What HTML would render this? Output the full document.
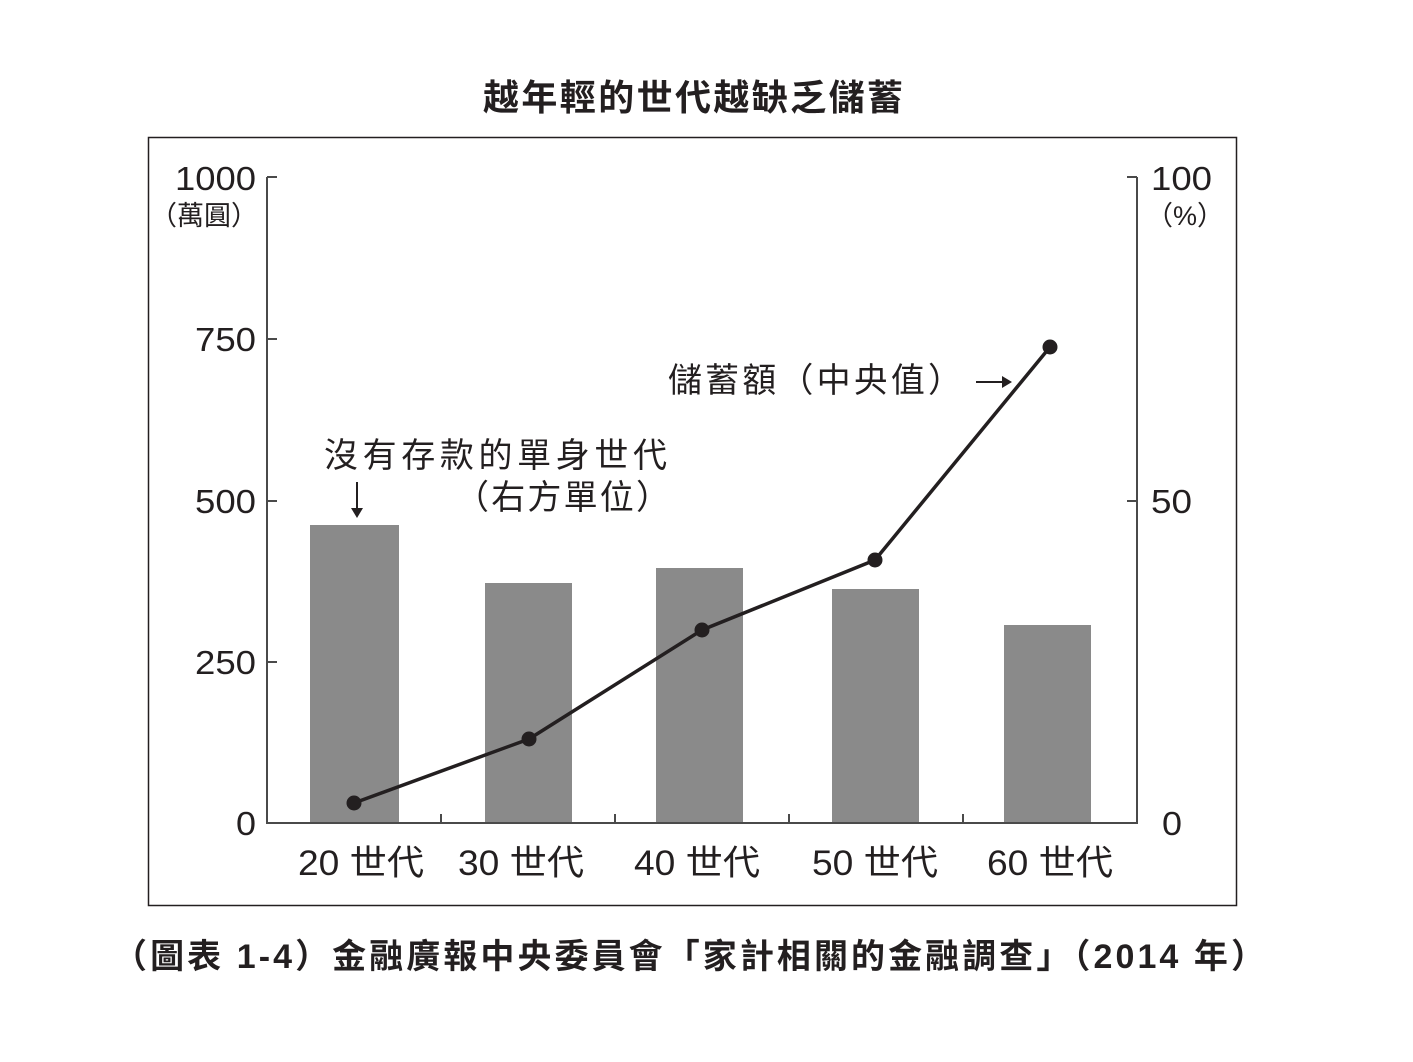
<!DOCTYPE html>
<html><head><meta charset="utf-8"><style>
body{margin:0;background:#fff}
svg text{font-family:"Liberation Sans","Noto Sans CJK TC",sans-serif;fill:#231f20}
</style></head><body>
<svg width="1413" height="1057" viewBox="0 0 1413 1057" xmlns="http://www.w3.org/2000/svg">
<text x="483" y="110" font-size="36" font-weight="bold" textLength="420" lengthAdjust="spacing" style="font-family:'Noto Sans CJK TC',sans-serif">越年輕的世代越缺乏儲蓄</text>
<rect x="148.5" y="137.5" width="1088" height="768" fill="none" stroke="#231f20" stroke-width="1.5"/>
<g fill="#8a8a8a">
<rect x="310" y="525" width="89" height="298"/>
<rect x="485" y="583" width="87" height="240"/>
<rect x="656" y="568" width="87" height="255"/>
<rect x="832" y="589" width="87" height="234"/>
<rect x="1004" y="625" width="87" height="198"/>
</g>
<g stroke="#4a4a4a" stroke-width="2" fill="none">
<path d="M267 177V823H1137V177"/>
<path d="M267 177h10M267 339h10M267 501h10M267 662h10"/>
<path d="M1137 177h-10M1137 501h-10"/>
<path d="M441 823v-9M615 823v-9M789 823v-9M963 823v-9"/>
</g>
<polyline points="354,803 529,739 702,630 875,560 1050,347" fill="none" stroke="#231f20" stroke-width="3.5"/>
<g fill="#231f20">
<circle cx="354" cy="803" r="7.5"/><circle cx="529" cy="739" r="7.5"/><circle cx="702" cy="630" r="7.5"/><circle cx="875" cy="560" r="7.5"/><circle cx="1050" cy="347" r="7.5"/>
</g>
<g font-size="33">
<text x="175" y="190" textLength="81" lengthAdjust="spacingAndGlyphs">1000</text>
<text x="195" y="351" textLength="61" lengthAdjust="spacingAndGlyphs">750</text>
<text x="195" y="513" textLength="61" lengthAdjust="spacingAndGlyphs">500</text>
<text x="195" y="674" textLength="61" lengthAdjust="spacingAndGlyphs">250</text>
<text x="236" y="835" textLength="20" lengthAdjust="spacingAndGlyphs">0</text>
</g>
<text x="258" y="225" font-size="27" text-anchor="end">（萬圓）</text>
<g font-size="33">
<text x="1151" y="190" textLength="61" lengthAdjust="spacingAndGlyphs">100</text>
<text x="1151" y="513" textLength="41" lengthAdjust="spacingAndGlyphs">50</text>
<text x="1162" y="835" textLength="20" lengthAdjust="spacingAndGlyphs">0</text>
</g>
<text x="1146" y="225" font-size="27">（%）</text>
<g font-size="35">
<text x="298" y="875" textLength="126" lengthAdjust="spacingAndGlyphs">20 世代</text>
<text x="458" y="875" textLength="126" lengthAdjust="spacingAndGlyphs">30 世代</text>
<text x="634" y="875" textLength="126" lengthAdjust="spacingAndGlyphs">40 世代</text>
<text x="812" y="875" textLength="126" lengthAdjust="spacingAndGlyphs">50 世代</text>
<text x="987" y="875" textLength="126" lengthAdjust="spacingAndGlyphs">60 世代</text>
</g>
<g font-size="34">
<text x="324" y="467" textLength="343" lengthAdjust="spacing">沒有存款的單身世代</text>
<text x="455" y="509" textLength="215" lengthAdjust="spacing">（右方單位）</text>
<text x="668" y="392" textLength="294" lengthAdjust="spacing">儲蓄額（中央值）</text>
</g>
<path d="M357 482v32" stroke="#231f20" stroke-width="2"/>
<path d="M351 508l6 10 6-10z" fill="#231f20"/>
<path d="M976 382h30" stroke="#231f20" stroke-width="2"/>
<path d="M1002 376l10 6-10 6z" fill="#231f20"/>
<text x="113" y="968" font-size="34" font-weight="bold" textLength="1152" lengthAdjust="spacing" style="font-family:'Liberation Sans','Noto Sans CJK TC',sans-serif">（圖表 1-4）金融廣報中央委員會「家計相關的金融調查」（2014 年）</text>
</svg>
</body></html>
